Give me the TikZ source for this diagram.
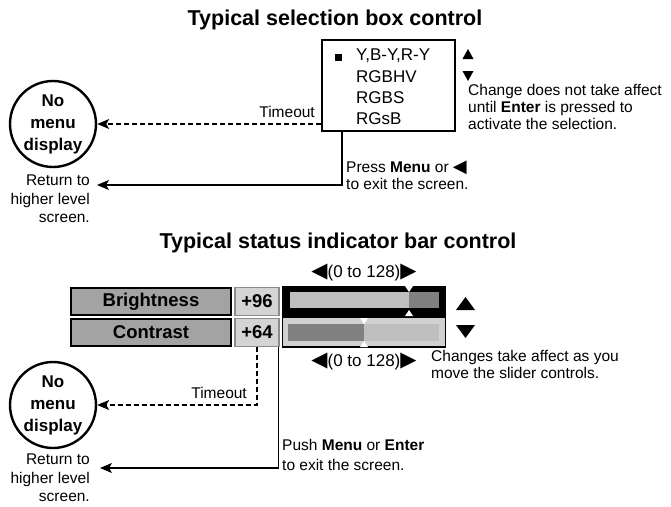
\documentclass[tikz,border=0pt]{standalone}
\usepackage{fontspec}
\setmainfont{Liberation Sans}
\newfontfamily\symfont{DejaVu Sans}
\usetikzlibrary{arrows.meta}
\definecolor{lblfill}{gray}{0.64}
\definecolor{valfill}{gray}{0.83}
\definecolor{valline}{gray}{0.55}
\definecolor{rowfill}{gray}{0.82}
\definecolor{barlight}{gray}{0.75}
\definecolor{bardark}{gray}{0.5}

\begin{document}
\begin{tikzpicture}[x=1pt,y=-1pt]
\tikzstyle{title}=[font=\fontsize{21.5}{23}\selectfont\bfseries]
\tikzstyle{txt}=[font=\fontsize{15.5}{17}\selectfont, inner sep=0pt, align=left]
\tikzstyle{ret}=[font=\fontsize{15.5}{18.5}\selectfont, inner sep=0pt, align=right, anchor=north east]
\tikzstyle{item}=[font=\fontsize{17}{21}\selectfont, inner sep=0pt, anchor=west]
\tikzstyle{rng}=[font=\fontsize{17}{20}\selectfont, inner sep=0pt]
\tikzstyle{oval}=[circle, draw=black, line width=2.4pt, minimum size=86pt, inner sep=0pt, align=center, font=\fontsize{17}{22}\selectfont\bfseries]
\tikzstyle{lbl}=[draw=black, line width=2pt, fill=lblfill, minimum width=160pt, minimum height=27pt, font=\fontsize{18.5}{20}\selectfont\bfseries]
\tikzstyle{val}=[draw=valline, line width=1.5pt, fill=valfill, minimum width=44pt, minimum height=28pt, font=\fontsize{18.5}{20}\selectfont\bfseries]
\tikzstyle{arrow}=[line width=1.1pt,-{Stealth[length=12pt,width=10pt,inset=3pt]}]
\tikzstyle{dasharrow}=[arrow, dash pattern=on 5pt off 3pt]
\newcommand{\bigtri}[1]{{\symfont\fontsize{21}{20}\selectfont #1}}
\useasboundingbox (0,0) rectangle (671,506);

% selection box
\node[title] (t1) at (335,20) {Typical selection box control};
\node[draw, line width=2pt, minimum width=133pt, minimum height=91pt] (sel) at (388.5,85.5) {};
\node[fill, minimum size=7pt, inner sep=0pt] (bul) at (338,57) {};
\node[item] (i1) at (356,56) {Y,B-Y,R-Y};
\node[item] (i2) at (356,77) {RGBHV};
\node[item] (i3) at (356,98) {RGBS};
\node[item] (i4) at (356,119) {RGsB};
\fill (462.5,59) -- (473.5,59) -- (468,49) -- cycle;
\fill (462.5,71) -- (473.5,71) -- (468,81) -- cycle;
\node[txt, anchor=north west] (chg) at (468,84) {Change does not take affect\\until \textbf{Enter} is pressed to\\activate the selection.};
\node[oval] (nm1) at (53,124) {No\\menu\\display};
\coordinate (r1) at (97,185);
\draw[dasharrow] (sel.west |- nm1.east) -- (nm1.east);
\node[txt, anchor=south east] (to1) at ([xshift=-6pt,yshift=6pt]sel.west |- nm1.east) {Timeout};
\draw[arrow] ([xshift=-46.5pt]sel.south) |- (r1);
\node[txt, anchor=north west] (press) at (346,161) {Press \textbf{Menu} or {\symfont\fontsize{18}{17}\selectfont ◀}\\to exit the screen.};
\node[ret] (ret1) at (90,175) {Return to\\higher level\\screen.};

% status bars
\node[title] (t2) at (338,243) {Typical status indicator bar control};
\node[rng] (rg1) at (364,273) {\bigtri{◀}(0 to 128)\bigtri{▶}};
\node[lbl] (b) at (151,301.5) {Brightness};
\node[lbl] (c) at (151,332.5) {Contrast};
\node[val] (v1) at (257,301.5) {+96};
\node[val] (v2) at (257,332.5) {+64};
\node[fill=black, minimum width=164pt, minimum height=31pt, inner sep=0pt] (s1) at (364,301.5) {};
\node[draw=black, line width=1.5pt, fill=rowfill, minimum width=163pt, minimum height=30pt, inner sep=0pt] (s2) at (364,332) {};
\fill[barlight] (290,292) rectangle (409,308);
\fill[bardark] (409,292) rectangle (439,308);
\fill[bardark] (288,324) rectangle (364,341);
\fill[barlight] (364,324) rectangle (439,341);
\fill[white] (405,286) -- (413,286) -- (409,292) -- cycle;
\fill[white] (405,316) -- (413,316) -- (409,310) -- cycle;
\fill[white] (360,318) -- (368,318) -- (364,324) -- cycle;
\fill[white] (360,347) -- (368,347) -- (364,341) -- cycle;
\fill (456,310) -- (475,310) -- (465.5,297) -- cycle;
\fill (456,325) -- (475,325) -- (465.5,338) -- cycle;
\node[rng] (rg2) at (364,362) {\bigtri{◀}(0 to 128)\bigtri{▶}};
\node[txt, anchor=north west] (chs) at (431,350) {Changes take affect as you\\move the slider controls.};
\node[oval] (nm2) at (53,405) {No\\menu\\display};
\coordinate (r2) at (100,468);
\draw[dasharrow] (v2.south) |- (nm2.east);
\node[txt, anchor=south east] (to2) at ([xshift=-10pt,yshift=6pt]v2.south |- nm2.east) {Timeout};
\draw[arrow] ([xshift=-1pt]v2.south east) |- (r2);
\node[txt, anchor=north west, font=\fontsize{15.5}{20}\selectfont] (push) at (282,439) {Push \textbf{Menu} or \textbf{Enter}\\to exit the screen.};
\node[ret] (ret2) at (90,454) {Return to\\higher level\\screen.};
\end{tikzpicture}
\end{document}
